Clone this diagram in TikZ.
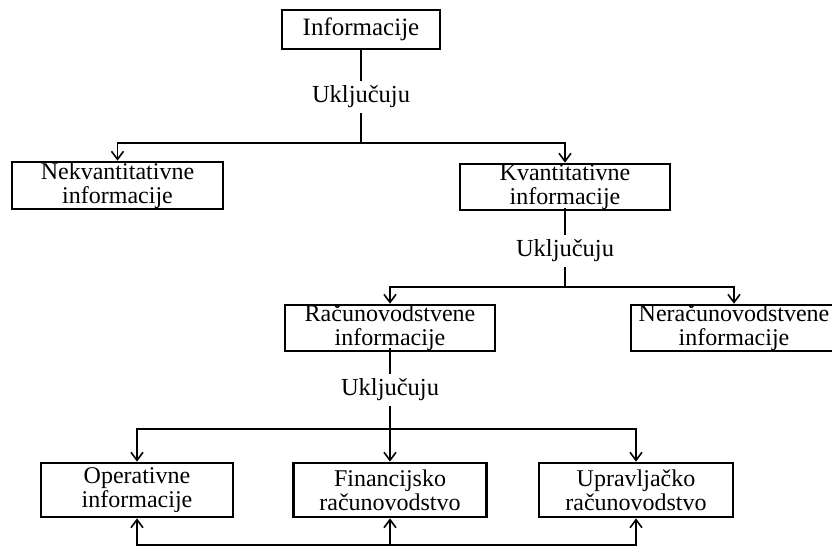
\documentclass[tikz,border=0pt]{standalone}
\usepackage{fontspec}
\setmainfont{Liberation Serif}
\usetikzlibrary{arrows.meta}
\begin{document}
\begin{tikzpicture}[x=1pt,y=-1pt,
  box/.style={draw,line width=2.8pt,align=center,inner sep=0pt,font=\fontsize{24}{24}\selectfont},
  lbl/.style={inner sep=5pt,font=\fontsize{24.5}{24}\selectfont},
  conn/.style={line width=1.6pt},
  arr/.style={conn,-{Straight Barb[length=8pt,width=12pt,line width=1.6pt]}}]
\useasboundingbox (0,0) rectangle (832,548);
% boxes
\node[box,minimum width=158pt,minimum height=39pt,font=\fontsize{25}{24}\selectfont] (inf) at (361,29.5) {Informacije};
\node[box,minimum width=211pt,minimum height=47pt] (nek) at (117.5,185.5) {Nekvantitativne\\informacije};
\node[box,minimum width=210pt,minimum height=46pt] (kvan) at (565,187) {Kvantitativne\\informacije};
\node[box,minimum width=210pt,minimum height=44pt] (rac) at (390,328) {Računovodstvene\\informacije};
\node[box,minimum width=206pt,minimum height=44pt] (nerac) at (734,328) {Neračunovodstvene\\informacije};
\node[box,minimum width=192pt,minimum height=54pt] (oper) at (137,490) {Operativne\\informacije};
\node[box,minimum width=193pt,minimum height=54pt] (fin) at (390,490) {Financijsko\\računovodstvo};
\node[box,minimum width=194pt,minimum height=54pt] (upr) at (636,490) {Upravljačko\\računovodstvo};
% labels
\node[lbl] (u1) at (361,97) {Uključuju};
\node[lbl] (u2) at (565,251) {Uključuju};
\node[lbl] (u3) at (390,390) {Uključuju};
% junctions
\coordinate (j1) at (361,143);
\coordinate (j2) at (565,287);
\coordinate (j3) at (390,429);
\coordinate (j4) at (390,545);
% connectors level 1
\draw[conn] (inf.south) -- (u1.north);
\draw[conn] (u1.south) -- (j1);
\draw[arr] (j1) -| (nek.north);
\draw[arr] (j1) -| (kvan.north);
% level 2
\draw[conn] ([yshift=3pt]kvan.south) -- (u2.north);
\draw[conn] (u2.south) -- (j2);
\draw[arr] (j2) -| (rac.north);
\draw[arr] (j2) -| (nerac.north);
% level 3
\draw[conn] ([yshift=4pt]rac.south) -- (u3.north);
\draw[arr] (u3.south) -- (fin.north);
\draw[arr] (j3) -| (oper.north);
\draw[arr] (j3) -| (upr.north);
% bottom feedback
\draw[arr] (j4) -| (oper.south);
\draw[arr] (j4) -- (fin.south);
\draw[arr] (j4) -| (upr.south);
\end{tikzpicture}
\end{document}
